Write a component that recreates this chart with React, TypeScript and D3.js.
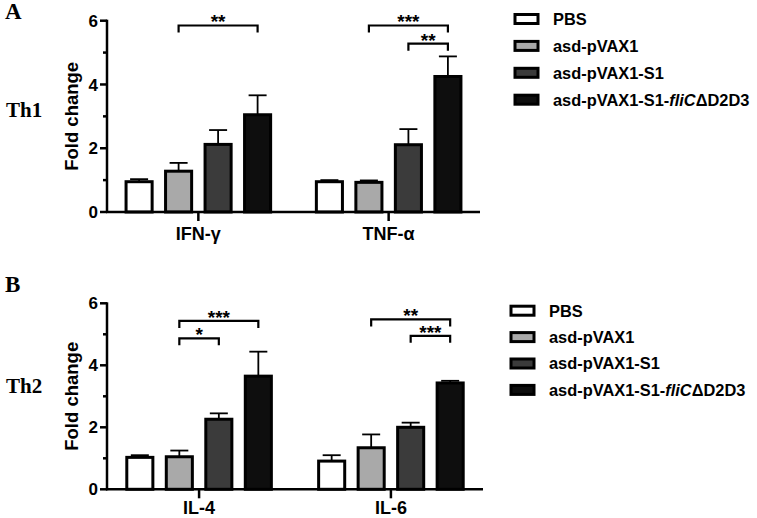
import React from "react";
import * as d3 from "d3";

const groups = ["PBS", "asd-pVAX1", "asd-pVAX1-S1", "asd-pVAX1-S1-fliCΔD2D3"];
const fills = ["#ffffff", "#a9a9a9", "#3b3b3b", "#0e0e0e"];

const th1Categories = ["IFN-γ", "TNF-α"];
const th1Means = [
  [0.95, 1.28, 2.12, 3.05],
  [0.95, 0.93, 2.11, 4.25],
];
const th1Errors = [
  [1.03, 1.54, 2.57, 3.66],
  [1.0, 0.99, 2.6, 4.88],
];
const th1Sig = [
  { cat: 0, from: 1, to: 3, at: 5.85, label: "**" },
  { cat: 1, from: 1, to: 3, at: 5.85, label: "***" },
  { cat: 1, from: 2, to: 3, at: 5.28, label: "**" },
];

const th2Categories = ["IL-4", "IL-6"];
const th2Means = [
  [1.03, 1.05, 2.26, 3.65],
  [0.91, 1.34, 2.0, 3.43],
];
const th2Errors = [
  [1.1, 1.25, 2.45, 4.44],
  [1.1, 1.77, 2.15, 3.5],
];
const th2Sig = [
  { cat: 0, from: 1, to: 3, at: 5.43, label: "***" },
  { cat: 0, from: 1, to: 2, at: 4.87, label: "*" },
  { cat: 1, from: 1, to: 3, at: 5.48, label: "**" },
  { cat: 1, from: 2, to: 3, at: 4.95, label: "***" },
];

const yTicks = [0, 2, 4, 6];
const yMinor = [1, 3, 5];

const SANS = "'Liberation Sans', Arial, Helvetica, sans-serif";
const SERIF = "'Liberation Serif', 'Times New Roman', serif";

type Sig = { cat: number; from: number; to: number; at: number; label: string };

function Panel(props: {
  letter: string;
  th: string;
  categories: string[];
  means: number[][];
  errors: number[][];
  sig: Sig[];
  y0: number;
  y6: number;
  xEnd: number;
  letterY: number;
  thY: number;
  legendY: number;
  legendStep: number;
  legendX: number;
  catDy: number;
}) {
  const { categories, means, errors, sig, y0, y6, xEnd } = props;
  const xAxis0 = 107;
  const y = d3.scaleLinear().domain([0, 6]).range([y0, y6]);
  const xc = d3.scalePoint<string>().domain(categories).range([xAxis0, xEnd]).padding(0.48);
  const inner = d3
    .scaleBand<string>()
    .domain(groups)
    .range([-79, 79])
    .paddingInner(0.34)
    .paddingOuter(0.17);
  const bw = inner.bandwidth();
  const barCx = (ci: number, gi: number) =>
    (xc(categories[ci]) as number) + (inner(groups[gi]) as number) + bw / 2;

  return (
    <g>
      <text x={5} y={props.letterY} fontFamily={SERIF} fontWeight="bold" fontSize={23}>
        {props.letter}
      </text>
      <text x={6} y={props.thY} fontFamily={SERIF} fontWeight="bold" fontSize={21}>
        {props.th}
      </text>
      <text
        transform={`translate(78,${(y0 + y6) / 2}) rotate(-90)`}
        textAnchor="middle"
        fontFamily={SANS}
        fontWeight="bold"
        fontSize={18.5}
      >
        Fold change
      </text>
      {/* bars */}
      {categories.map((c, ci) =>
        groups.map((g, gi) => {
          const cx = barCx(ci, gi);
          const v = means[ci][gi];
          const e = errors[ci][gi];
          return (
            <g key={c + g}>
              <line x1={cx} x2={cx} y1={y(v)} y2={y(e)} stroke="#000" strokeWidth={1.8} />
              <line x1={cx - 9} x2={cx + 9} y1={y(e)} y2={y(e)} stroke="#000" strokeWidth={1.8} />
              <rect
                x={cx - bw / 2}
                y={y(v)}
                width={bw}
                height={y(0) - y(v)}
                fill={fills[gi]}
                stroke="#000"
                strokeWidth={3}
              />
            </g>
          );
        })
      )}
      {/* y axis */}
      <line x1={xAxis0} x2={xAxis0} y1={y(0) + 1} y2={y(6) - 1} stroke="#000" strokeWidth={2.5} />
      {yTicks.map((t) => (
        <g key={"t" + t}>
          <line x1={xAxis0 - 7} x2={xAxis0} y1={y(t)} y2={y(t)} stroke="#000" strokeWidth={2.5} />
          <text
            x={xAxis0 - 9}
            y={y(t)}
            dy="0.36em"
            textAnchor="end"
            fontFamily={SANS}
            fontWeight="bold"
            fontSize={17}
          >
            {t}
          </text>
        </g>
      ))}
      {yMinor.map((t) => (
        <line key={"m" + t} x1={xAxis0 - 4} x2={xAxis0} y1={y(t)} y2={y(t)} stroke="#000" strokeWidth={2.5} />
      ))}
      {/* x axis */}
      <line x1={xAxis0 - 1} x2={xEnd} y1={y(0)} y2={y(0)} stroke="#000" strokeWidth={2.5} />
      {categories.map((c) => (
        <g key={"c" + c}>
          <line
            x1={xc(c) as number}
            x2={xc(c) as number}
            y1={y(0)}
            y2={y(0) + 9}
            stroke="#000"
            strokeWidth={2.5}
          />
          <text
            x={xc(c) as number}
            y={y(0) + props.catDy}
            textAnchor="middle"
            fontFamily={SANS}
            fontWeight="bold"
            fontSize={18}
          >
            {c}
          </text>
        </g>
      ))}
      {/* significance */}
      {sig.map((s, i) => {
        const x1 = barCx(s.cat, s.from);
        const x2 = barCx(s.cat, s.to);
        const yy = y(s.at);
        return (
          <g key={"s" + i}>
            <path
              d={`M${x1},${yy + 7}V${yy}H${x2}V${yy + 7}`}
              fill="none"
              stroke="#000"
              strokeWidth={2.2}
            />
            <text
              x={(x1 + x2) / 2}
              y={yy + 3}
              textAnchor="middle"
              fontFamily={SANS}
              fontWeight="bold"
              fontSize={19}
            >
              {s.label}
            </text>
          </g>
        );
      })}
      {/* legend */}
      {groups.map((g, gi) => {
        const ly = props.legendY + gi * props.legendStep;
        return (
          <g key={"l" + g}>
            <rect
              x={props.legendX}
              y={ly - 4.5}
              width={23}
              height={9}
              fill={fills[gi]}
              stroke="#000"
              strokeWidth={3}
            />
            <text
              x={props.legendX + 38}
              y={ly}
              dy="0.36em"
              fontFamily={SANS}
              fontWeight="bold"
              fontSize={16.4}
            >
              {gi === 3 ? (
                <>
                  asd-pVAX1-S1-<tspan fontStyle="italic">fliC</tspan>ΔD2D3
                </>
              ) : (
                g
              )}
            </text>
          </g>
        );
      })}
    </g>
  );
}

export default function App() {
  return (
    <svg
      width={757}
      height={518}
      style={{ position: "absolute", left: 0, top: 0, background: "#fff" }}
    >
      <rect width={757} height={518} fill="#fff" />
      <Panel
        letter="A"
        th="Th1"
        categories={th1Categories}
        means={th1Means}
        errors={th1Errors}
        sig={th1Sig}
        y0={212}
        y6={20.7}
        xEnd={480}
        letterY={19}
        thY={117}
        legendY={19}
        legendStep={26.9}
        legendX={515}
        catDy={28}
      />
      <Panel
        letter="B"
        th="Th2"
        categories={th2Categories}
        means={th2Means}
        errors={th2Errors}
        sig={th2Sig}
        y0={489.3}
        y6={303.3}
        xEnd={483}
        letterY={292}
        thY={393}
        legendY={310.7}
        legendStep={26.4}
        legendX={511}
        catDy={24.5}
      />
    </svg>
  );
}
